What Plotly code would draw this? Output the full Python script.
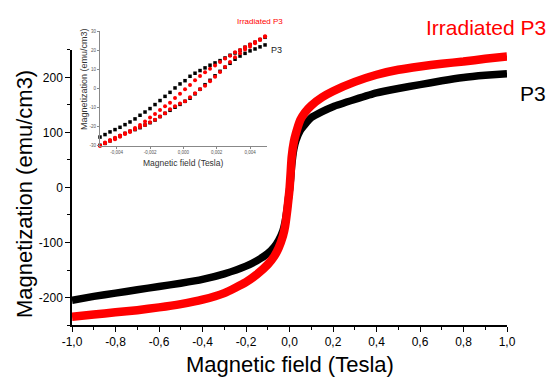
import plotly.graph_objects as go

# ---------------- main hysteresis curves (field in Tesla, M in emu/cm3) -------------
main_field = [-1.0, -0.9, -0.8, -0.7, -0.6, -0.5, -0.4, -0.3, -0.2, -0.15, -0.1, -0.07,
              -0.05, -0.03, -0.02, -0.01, -0.005, 0.0, 0.005, 0.01, 0.02, 0.03, 0.05, 0.07,
              0.1, 0.15, 0.2, 0.3, 0.4, 0.5, 0.6, 0.7, 0.8, 0.9, 1.0]
p3_main = [-205, -198, -192, -186, -180, -174, -167, -157, -143, -133, -120, -108,
           -96, -78, -62, -36, -20, -4, 15, 40, 70, 86, 104, 114,
           127, 138, 147, 160, 172, 180, 187, 194, 200, 204, 207]
irr_main = [-235, -231, -227, -223, -218, -212, -204, -192, -172, -158, -140, -125,
            -110, -88, -70, -40, -22, -4, 25, 55, 83, 99, 123, 136,
            149, 164, 175, 192, 205, 214, 220, 225, 229, 234, 238]

# ---------------- inset: low-field loops ----------------
inset_field = [-0.0050, -0.0047, -0.0044, -0.0041, -0.0038, -0.0035, -0.0032, -0.0029,
               -0.0026, -0.0023, -0.0020, -0.0017, -0.0014, -0.0011, -0.0008, -0.0005,
               -0.0002, 0.0001, 0.0004, 0.0007, 0.0010, 0.0013, 0.0016, 0.0019,
               0.0022, 0.0025, 0.0028, 0.0031, 0.0034, 0.0037, 0.0040, 0.0043,
               0.0046, 0.0049]
p3_upper = [-25.5, -24.2, -22.8, -21.6, -20.4, -19.0, -17.6, -16.0, -14.1, -12.4, -10.6,
            -8.5, -6.4, -4.2, -2.1, 0.2, 2.3, 4.0, 6.3, 7.9, 9.3, 10.7, 12.1, 13.3, 14.5,
            15.9, 17.3, 18.5, 19.9, 21.5, 22.9, 24.1, 25.5, 26.7]
p3_lower = [-29.8, -28.8, -27.5, -26.2, -24.9, -23.6, -22.5, -21.6, -20.6, -19.2, -18.0,
            -16.6, -14.8, -13.1, -11.5, -9.9, -8.4, -6.8, -5.2, -2.9, -0.5, 1.9, 4.2, 6.6,
            8.9, 11.0, 13.1, 15.2, 16.9, 18.3, 19.6, 20.6, 21.7, 22.7]
irr_upper = [-30.0, -28.4, -27.0, -25.8, -24.7, -23.5, -22.3, -20.7, -19.2, -17.3, -15.3,
             -13.4, -11.3, -9.4, -7.5, -5.0, -2.8, -0.5, 1.8, 4.2, 6.5, 8.4, 10.3, 11.9,
             13.8, 15.6, 17.1, 18.9, 20.1, 21.5, 22.9, 24.3, 25.7, 27.2]
irr_lower = [-30.0, -28.8, -27.5, -26.7, -25.3, -23.9, -22.8, -21.4, -20.2, -19.2, -17.8,
             -16.4, -14.8, -13.1, -11.0, -9.4, -8.0, -6.8, -4.7, -2.6, -0.5, 1.4, 3.7, 6.0,
             8.6, 11.2, 13.8, 16.2, 18.3, 20.3, 21.8, 23.6, 25.3, 27.0]

# ---------------- ticks ----------------
x_tickvals = [-1.0, -0.8, -0.6, -0.4, -0.2, 0.0, 0.2, 0.4, 0.6, 0.8, 1.0]
x_ticktext = ["-1,0", "-0,8", "-0,6", "-0,4", "-0,2", "0,0", "0,2", "0,4", "0,6", "0,8", "1,0"]
x_minor = [-0.9, -0.7, -0.5, -0.3, -0.1, 0.1, 0.3, 0.5, 0.7, 0.9]
y_tickvals = [-200, -100, 0, 100, 200]
y_ticktext = ["-200", "-100", "0", "100", "200"]
y_minor = [-250, -150, -50, 50, 150, 250]
ix_tickvals = [-0.004, -0.002, 0.0, 0.002, 0.004]
ix_ticktext = ["-0,004", "-0,002", "0,000", "0,002", "0,004"]
iy_tickvals = [-30, -20, -10, 0, 10, 20, 30]
iy_ticktext = ["-30", "-20", "-10", "0", "10", "20", "30"]

FONT = "Liberation Sans, Arial, sans-serif"
RED = "#ff0000"
BLACK = "#000000"

fig = go.Figure()
fig.add_trace(go.Scatter(x=main_field, y=p3_main, mode="lines",
                         line=dict(color=BLACK, width=7.5, shape="spline", smoothing=0.5),
                         xaxis="x", yaxis="y", showlegend=False))
fig.add_trace(go.Scatter(x=main_field, y=irr_main, mode="lines",
                         line=dict(color=RED, width=8.5, shape="spline", smoothing=0.5),
                         xaxis="x", yaxis="y", showlegend=False))

for ys in (p3_upper, p3_lower):
    fig.add_trace(go.Scatter(x=inset_field, y=ys, mode="markers",
                             marker=dict(color=BLACK, size=3.5, symbol="square"),
                             xaxis="x2", yaxis="y2", showlegend=False, cliponaxis=False))
for ys in (irr_upper, irr_lower):
    fig.add_trace(go.Scatter(x=inset_field, y=ys, mode="markers",
                             marker=dict(color=RED, size=4, symbol="circle"),
                             xaxis="x2", yaxis="y2", showlegend=False, cliponaxis=False))

axis_common = dict(showgrid=False, zeroline=False, automargin=False, mirror=False,
                   showline=True, tickmode="array", ticks="outside")

fig.update_layout(
    width=555, height=381,
    margin=dict(l=72, r=48, t=31, b=56),
    paper_bgcolor="white", plot_bgcolor="white",
    font=dict(family=FONT, color="black"),
    xaxis=dict(domain=[0, 1], range=[-1, 1], anchor="y",
               linecolor="black", linewidth=1.5,
               tickvals=x_tickvals, ticktext=x_ticktext,
               ticklen=5, tickwidth=1, tickcolor="black",
               minor=dict(tickvals=x_minor, ticks="outside", ticklen=3, tickcolor="black"),
               tickfont=dict(size=12, family=FONT), **axis_common),
    yaxis=dict(domain=[0, 0.9354], range=[-250, 250], anchor="x",
               linecolor="black", linewidth=1.5,
               tickvals=y_tickvals, ticktext=y_ticktext,
               ticklen=5, tickwidth=1, tickcolor="black",
               minor=dict(tickvals=y_minor, ticks="outside", ticklen=3, tickcolor="black"),
               tickfont=dict(size=12, family=FONT), **axis_common),
    xaxis2=dict(domain=[0.0644, 0.4476], range=[-0.005, 0.005], anchor="y2",
                linecolor="#888888", linewidth=1,
                tickvals=ix_tickvals, ticktext=ix_ticktext,
                ticklen=2, tickwidth=0.7, tickcolor="#888888",
                tickfont=dict(size=4.5, family=FONT, color="#555555"), **axis_common),
    yaxis2=dict(domain=[0.610, 1.0], range=[-30, 30], anchor="x2",
                linecolor="#888888", linewidth=1,
                tickvals=iy_tickvals, ticktext=iy_ticktext,
                ticklen=2, tickwidth=0.7, tickcolor="#888888",
                tickfont=dict(size=4.5, family=FONT, color="#555555"), **axis_common),
    annotations=[
        # axis titles
        dict(text="Magnetic field (Tesla)", x=0.501, y=-0.136, xref="paper", yref="paper",
             xanchor="center", yanchor="middle", showarrow=False,
             font=dict(size=22, family=FONT, color=BLACK)),
        dict(text="Magnetization (emu/cm3)", x=-0.108, y=0.4456, xref="paper", yref="paper",
             xanchor="center", yanchor="middle", textangle=-90, showarrow=False,
             font=dict(size=22, family=FONT, color=BLACK)),
        dict(text="Magnetic field (Tesla)", x=0.255, y=0.551, xref="paper", yref="paper",
             xanchor="center", yanchor="middle", showarrow=False,
             font=dict(size=8.5, family=FONT, color="#333333")),
        dict(text="Magnetization (emu/cm3)", x=0.0276, y=0.837, xref="paper", yref="paper",
             xanchor="center", yanchor="middle", textangle=-90, showarrow=False,
             font=dict(size=9, family=FONT, color="#333333")),
        # series labels
        dict(text="Irradiated P3", x=0.952, y=1.0136, xref="paper", yref="paper",
             xanchor="center", yanchor="middle", showarrow=False,
             font=dict(size=21, color=RED, family=FONT)),
        dict(text="P3", x=1.06, y=0.786, xref="paper", yref="paper",
             xanchor="center", yanchor="middle", showarrow=False,
             font=dict(size=21, color=BLACK, family=FONT)),
        dict(text="Irradiated P3", x=0.432, y=1.031, xref="paper", yref="paper",
             xanchor="center", yanchor="middle", showarrow=False,
             font=dict(size=8, color=RED, family=FONT)),
        dict(text="P3", x=0.471, y=0.935, xref="paper", yref="paper",
             xanchor="center", yanchor="middle", showarrow=False,
             font=dict(size=9, color="#222222", family=FONT)),
    ],
)

fig.write_html("out.html", config={"displayModeBar": False},
               post_script="document.body.style.margin='0';document.body.style.padding='0';")
